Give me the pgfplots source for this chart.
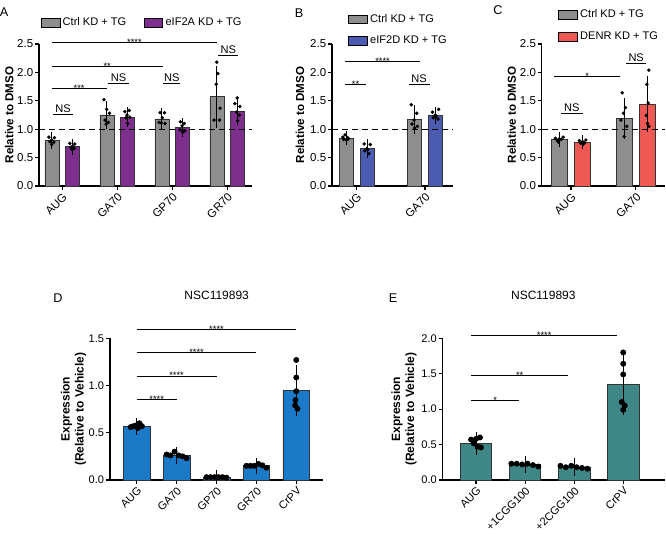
\documentclass[border=0pt]{standalone}
\usepackage{pgfplots}
\pgfplotsset{compat=1.18}
\usepackage{fontspec}
\setmainfont{Liberation Sans}
\definecolor{cgray}{HTML}{8E8E8E}
\definecolor{cpurple}{HTML}{7E2F8E}
\definecolor{cblue}{HTML}{4A5BB0}
\definecolor{cred}{HTML}{EE5A53}
\definecolor{dblue}{HTML}{1A7AC8}
\definecolor{eteal}{HTML}{3E8786}
\newcommand\tfont{\fontsize{8.3}{9.5}\selectfont}
\newcommand\ufont{\fontsize{8.6}{10}\selectfont}
\newcommand\lfont{\bfseries\fontsize{8.7}{10.5}\selectfont}
\newcommand\sigS[4]{\draw[line width=0.7pt] (axis cs:#1,#3) -- (axis cs:#2,#3) node[midway, anchor=base, yshift=-2.2pt, inner sep=0pt, font=\fontsize{7}{8}\selectfont] {#4};}
\newcommand\sigN[3]{\draw[line width=0.7pt] (axis cs:#1,#3) -- (axis cs:#2,#3) node[midway, anchor=south, inner sep=1.2pt, font=\tfont] {NS};}
\pgfplotsset{
  panel/.style={
    scale only axis,
    anchor=south west,
    axis x line*=bottom, axis y line*=left,
    axis line style={-, line width=1pt},
    tick align=outside,
    major tick length=3pt,
    every tick/.style={line width=0.9pt, black},
    ymin=0,
    clip=false,
    /pgf/number format/assume math mode=true,
    ticklabel style={font=\tfont},
    yticklabel style={inner sep=1.2pt, /pgf/number format/fixed, /pgf/number format/fixed zerofill, /pgf/number format/precision=1},
    xticklabel style={rotate=45, anchor=north east, inner sep=1pt},
    ylabel style={font=\lfont, anchor=center},
    legend cell align=left,
    legend image code/.code={\draw[##1, draw=black, line width=0.4pt] (0pt,-3.2pt) rectangle (14pt,3.2pt);},
  },
  toppanel/.style={panel, ticklabel style={font=\ufont}},
  dots/.style={only marks, mark=*, mark size=1.1pt, black, forget plot},
  bigdots/.style={only marks, mark=*, mark size=2pt, black, forget plot},
  errs/.style={error bars/.cd, y dir=both, y explicit, error bar style={draw=black, solid, line width=0.7pt}, error mark options={draw=black, solid, line width=0.7pt, mark size=#1}},
  eplot/.style={draw=none, mark=none, forget plot, errs=#1},
}
\begin{document}
\begin{tikzpicture}
\useasboundingbox (0,0) rectangle (499.5pt,401.25pt);
% ---------------- A
\begin{axis}[toppanel, at={(29.25pt,261.75pt)}, width=159.75pt, height=106.5pt,
  xmin=-0.42, xmax=3.45, ymax=2.5, ytick={0,0.5,1,1.5,2,2.5},
  xtick={0,1,2,3}, xticklabels={AUG,GA70,GP70,GR70},
  ylabel={Relative to DMSO}, ylabel style={at={(axis description cs:-0.14,0.5)}},
  legend columns=2,
  legend style={draw=none, fill=none, font=\tfont, at={(0.486,1.15)}, anchor=center,
    /tikz/every even column/.append style={column sep=11pt}}]
\addplot[ybar, bar width=10.5pt, bar shift=-7.7pt, fill=cgray, draw=black!80, line width=0.5pt]
 table[x=x, y=y] {
x y
0 0.80
1 1.25
2 1.18
3 1.57
};
\addlegendentry{Ctrl KD + TG}
\addplot[ybar, bar width=10.5pt, bar shift=7.7pt, fill=cpurple, draw=black!80, line width=0.5pt]
 table[x=x, y=y] {
x y
0 0.69
1 1.21
2 1.03
3 1.31
};
\addlegendentry{eIF2A KD + TG}
\addplot[eplot=3.5pt] table[x=x, y=y, y error=e] {
x y e
-0.187 0.80 0.07
0.813 1.25 0.16
1.813 1.18 0.11
2.813 1.57 0.46
0.187 0.69 0.06
1.187 1.21 0.09
2.187 1.03 0.08
3.187 1.31 0.16
};
\addplot[dots] coordinates {
(-0.24,0.86) (-0.14,0.85) (-0.19,0.81) (-0.22,0.78) (-0.15,0.77) (-0.19,0.73)
(0.76,1.52) (0.81,1.35) (0.86,1.28) (0.78,1.16) (0.84,1.12) (0.80,1.09)
(1.78,1.29) (1.86,1.29) (1.82,1.20) (1.76,1.12) (1.87,1.10) (1.80,1.11)
(2.81,2.18) (2.83,1.98) (2.80,1.79) (2.87,1.37) (2.76,1.16) (2.86,1.16)};
\addplot[dots] coordinates {
(0.14,0.75) (0.23,0.74) (0.19,0.70) (0.16,0.68) (0.22,0.66) (0.18,0.64)
(1.14,1.31) (1.22,1.33) (1.18,1.25) (1.16,1.20) (1.23,1.21) (1.19,1.10)
(2.15,1.13) (2.22,1.10) (2.18,1.06) (2.14,0.99) (2.23,0.97) (2.19,0.95)
(3.18,1.55) (3.14,1.45) (3.23,1.40) (3.17,1.30) (3.22,1.25) (3.19,1.15)};
\addplot[dashed, dash pattern=on 4.5pt off 3pt, line width=0.8pt, forget plot] coordinates {(-0.42,1) (3.45,1)};
\sigN{-0.164}{0.2}{1.26}
\sigS{-0.19}{0.81}{1.71}{***}
\sigS{-0.19}{1.83}{2.10}{**}
\sigS{-0.19}{2.82}{2.52}{****}
\sigN{0.84}{1.21}{1.81}
\sigN{1.84}{2.15}{1.81}
\sigN{2.84}{3.2}{2.30}
\end{axis}
% ---------------- B
\begin{axis}[toppanel, at={(249pt,261.75pt)}, width=90.75pt, height=106.5pt,
  xmin=-0.36, xmax=1.41, ymax=2.5, ytick={0,0.5,1,1.5,2,2.5},
  xtick={0,1}, xticklabels={AUG,GA70},
  ylabel={Relative to DMSO}, ylabel style={at={(axis description cs:-0.264,0.5)}},
  legend style={draw=none, fill=none, font=\tfont, at={(0.10,1.25)}, anchor=north west, row sep=5pt}]
\addplot[ybar, bar width=10.5pt, bar shift=-7.9pt, fill=cgray, draw=black!80, line width=0.5pt]
 table[x=x, y=y] {
x y
0 0.84
1 1.17
};
\addlegendentry{Ctrl KD + TG}
\addplot[ybar, bar width=10.5pt, bar shift=7.9pt, fill=cblue, draw=black!80, line width=0.5pt]
 table[x=x, y=y] {
x y
0 0.66
1 1.24
};
\addlegendentry{eIF2D KD + TG}
\addplot[eplot=3.5pt] table[x=x, y=y, y error=e] {
x y e
-0.154 0.84 0.04
0.846 1.17 0.17
0.154 0.66 0.08
1.154 1.24 0.06
};
\addplot[dots] coordinates {
(-0.20,0.86) (-0.13,0.85) (-0.17,0.90) (-0.12,0.83) (-0.19,0.82) (-0.15,0.81)
(0.80,1.43) (0.88,1.28) (0.84,1.16) (0.81,1.09) (0.89,1.05) (0.85,1.02)};
\addplot[dots] coordinates {
(0.11,0.74) (0.20,0.73) (0.15,0.66) (0.12,0.62) (0.18,0.57) (0.16,0.64)
(1.11,1.30) (1.20,1.35) (1.15,1.25) (1.12,1.20) (1.19,1.18) (1.16,1.22)};
\addplot[dashed, dash pattern=on 4.5pt off 3pt, line width=0.8pt, forget plot] coordinates {(-0.36,1) (1.41,1)};
\sigS{-0.17}{0.14}{1.78}{**}
\sigS{-0.17}{0.93}{2.19}{****}
\sigN{0.76}{1.07}{1.78}
\end{axis}
% ---------------- C
\begin{axis}[toppanel, at={(406.3pt,261.75pt)}, width=92.5pt, height=106.5pt,
  xmin=-0.45, xmax=1.45, ymax=2.5, ytick={0,0.5,1,1.5,2,2.5},
  xtick={0,1}, xticklabels={AUG,GA70},
  ylabel={Relative to DMSO}, ylabel style={at={(axis description cs:-0.243,0.5)}},
  legend style={draw=none, fill=none, font=\tfont, at={(0.10,1.28)}, anchor=north west, row sep=5pt}]
\addplot[ybar, bar width=11.8pt, bar shift=-8.8pt, fill=cgray, draw=black!80, line width=0.5pt]
 table[x=x, y=y] {
x y
0 0.82
1 1.19
};
\addlegendentry{Ctrl KD + TG}
\addplot[ybar, bar width=11.8pt, bar shift=8.8pt, fill=cred, draw=black!80, line width=0.5pt]
 table[x=x, y=y] {
x y
0 0.77
1 1.44
};
\addlegendentry{DENR KD + TG}
\addplot[eplot=3.8pt] table[x=x, y=y, y error=e] {
x y e
-0.181 0.82 0.04
0.819 1.19 0.27
0.181 0.77 0.03
1.181 1.44 0.40
};
\addplot[dots] coordinates {
(-0.24,0.84) (-0.12,0.86) (-0.18,0.83) (-0.21,0.80) (-0.15,0.82) (-0.19,0.77)
(0.79,1.64) (0.84,1.38) (0.81,1.28) (0.77,1.16) (0.86,1.05) (0.82,0.87)};
\addplot[dots] coordinates {
(0.13,0.80) (0.23,0.81) (0.18,0.78) (0.15,0.75) (0.21,0.76) (0.19,0.74)
(1.20,2.04) (1.17,1.79) (1.19,1.46) (1.16,1.24) (1.20,1.05) (1.18,1.10)};
\addplot[dashed, dash pattern=on 4.5pt off 3pt, line width=0.8pt, forget plot] coordinates {(-0.45,1) (1.45,1)};
\sigS{-0.26}{0.76}{1.92}{*}
\sigN{-0.15}{0.18}{1.28}
\sigN{0.85}{1.16}{2.16}
\end{axis}
% ---------------- D
\begin{axis}[panel, at={(82.5pt,41.25pt)}, width=159.75pt, height=106.3pt,
  xmin=-0.67, xmax=4.67, ymax=1.5, ytick={0,0.5,1,1.5},
  xtick={0,1,2,3,4}, xticklabels={AUG,GA70,GP70,GR70,CrPV},
  ylabel={Expression\\(Relative to Vehicle)},
  ylabel style={align=center, font=\bfseries\fontsize{9}{10.5}\selectfont, at={(axis description cs:-0.171,0.5)}}]
\addplot[ybar, bar width=20pt, bar shift=0pt, fill=dblue, draw=black!80, line width=0.5pt, errs=5pt]
 table[x=x, y=y, y error=e] {
x y e
0 0.57 0.02
1 0.26 0.02
2 0.03 0.005
3 0.15 0.012
4 0.945 0.20
};
\addplot[bigdots] coordinates {
(-0.15,0.56) (-0.08,0.57) (0.0,0.58) (0.07,0.60) (0.13,0.57) (0.03,0.55)
(0.75,0.27) (0.85,0.26) (0.95,0.30) (1.05,0.26) (1.15,0.25) (1.25,0.23)
(1.75,0.03) (1.85,0.03) (1.95,0.03) (2.05,0.03) (2.15,0.03) (2.25,0.025)
(2.75,0.15) (2.85,0.15) (2.95,0.15) (3.05,0.17) (3.15,0.155) (3.25,0.13)
(4.0,1.27) (4.0,1.085) (4.0,0.94) (3.98,0.845) (3.97,0.79) (4.03,0.755)};
\sigS{0}{1}{0.85}{****}
\sigS{0}{2}{1.10}{****}
\sigS{0}{3}{1.35}{****}
\sigS{0}{4}{1.59}{****}
\end{axis}
% ---------------- E
\begin{axis}[panel, at={(332pt,41.25pt)}, width=166.7pt, height=106.3pt,
  xmin=-0.68, xmax=3.85, ymax=2, ytick={0,0.5,1,1.5,2},
  xtick={0,1,2,3}, xticklabels={AUG,+1CGG100,+2CGG100,CrPV},
  ylabel={Expression\\(Relative to Vehicle)},
  ylabel style={align=center, font=\bfseries\fontsize{9}{10.5}\selectfont, at={(axis description cs:-0.174,0.5)}}]
\addplot[ybar, bar width=23.5pt, bar shift=0pt, fill=eteal, draw=black!80, line width=0.5pt, errs=5.5pt]
 table[x=x, y=y, y error=e] {
x y e
0 0.52 0.06
1 0.215 0.015
2 0.18 0.02
3 1.345 0.33
};
\addplot[bigdots] coordinates {
(-0.10,0.57) (0.0,0.58) (0.08,0.60) (-0.05,0.52) (0.03,0.47) (0.10,0.46)
(0.72,0.23) (0.83,0.23) (0.94,0.22) (1.05,0.23) (1.16,0.21) (1.27,0.19)
(1.72,0.20) (1.83,0.18) (1.94,0.20) (2.05,0.18) (2.16,0.17) (2.27,0.16)
(3.0,1.80) (3.0,1.64) (3.0,1.49) (2.97,1.10) (3.03,1.05) (3.0,0.99)};
\sigS{-0.1}{0.88}{1.12}{*}
\sigS{-0.1}{1.88}{1.47}{**}
\sigS{-0.1}{2.88}{2.04}{****}
\end{axis}
% ---------------- panel letters and titles
\node[font=\fontsize{9.5}{11}\selectfont] at (3pt,391.9pt) {A};
\node[font=\fontsize{9.5}{11}\selectfont] at (224.25pt,391.5pt) {B};
\node[font=\fontsize{9.5}{11}\selectfont] at (373.5pt,393.75pt) {C};
\node[font=\fontsize{9.5}{11}\selectfont] at (43.5pt,177.75pt) {D};
\node[font=\fontsize{9.5}{11}\selectfont] at (294.75pt,177.75pt) {E};
\node[font=\fontsize{9}{10.5}\selectfont] at (162.5pt,180pt) {NSC119893};
\node[font=\fontsize{9}{10.5}\selectfont] at (407.5pt,179.5pt) {NSC119893};
\end{tikzpicture}
\end{document}
